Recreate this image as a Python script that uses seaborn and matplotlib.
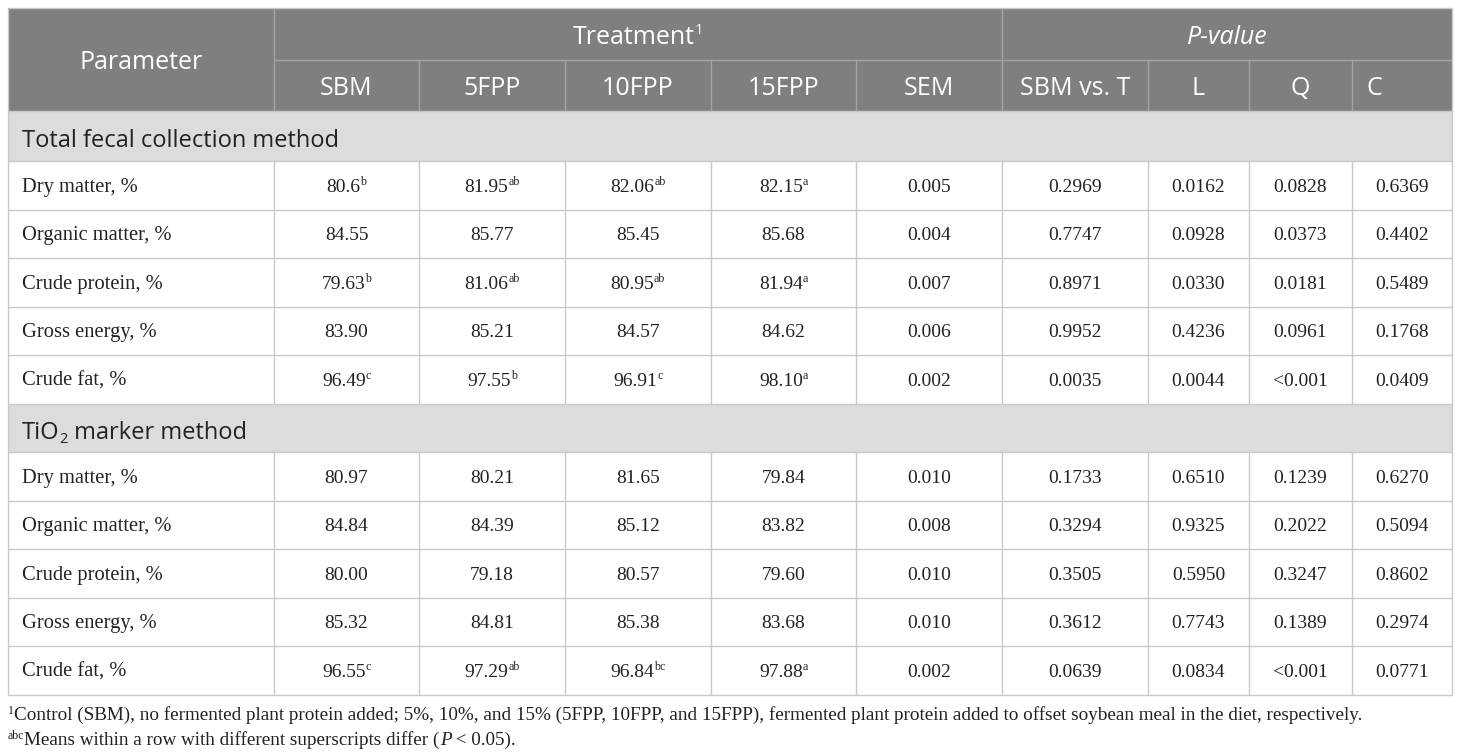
import matplotlib
matplotlib.use("Agg")
import matplotlib.pyplot as plt
import seaborn as sns
from matplotlib.patches import Rectangle

sns.set_theme(style="white")

# ---------------- data ----------------
treatments = ["SBM", "5FPP", "10FPP", "15FPP"]
pcols = ["SBM vs. T", "L", "Q", "C"]
params = ["Dry matter, %", "Organic matter, %", "Crude protein, %",
          "Gross energy, %", "Crude fat, %"]

tfc_values = [["80.6", "81.95", "82.06", "82.15"],
              ["84.55", "85.77", "85.45", "85.68"],
              ["79.63", "81.06", "80.95", "81.94"],
              ["83.90", "85.21", "84.57", "84.62"],
              ["96.49", "97.55", "96.91", "98.10"]]
tfc_sup = [["b", "ab", "ab", "a"],
           ["", "", "", ""],
           ["b", "ab", "ab", "a"],
           ["", "", "", ""],
           ["c", "b", "c", "a"]]
tfc_sem = ["0.005", "0.004", "0.007", "0.006", "0.002"]
tfc_p = [["0.2969", "0.0162", "0.0828", "0.6369"],
         ["0.7747", "0.0928", "0.0373", "0.4402"],
         ["0.8971", "0.0330", "0.0181", "0.5489"],
         ["0.9952", "0.4236", "0.0961", "0.1768"],
         ["0.0035", "0.0044", "<0.001", "0.0409"]]

tio_values = [["80.97", "80.21", "81.65", "79.84"],
              ["84.84", "84.39", "85.12", "83.82"],
              ["80.00", "79.18", "80.57", "79.60"],
              ["85.32", "84.81", "85.38", "83.68"],
              ["96.55", "97.29", "96.84", "97.88"]]
tio_sup = [["", "", "", ""],
           ["", "", "", ""],
           ["", "", "", ""],
           ["", "", "", ""],
           ["c", "ab", "bc", "a"]]
tio_sem = ["0.010", "0.008", "0.010", "0.010", "0.002"]
tio_p = [["0.1733", "0.6510", "0.1239", "0.6270"],
         ["0.3294", "0.9325", "0.2022", "0.5094"],
         ["0.3505", "0.5950", "0.3247", "0.8602"],
         ["0.3612", "0.7743", "0.1389", "0.2974"],
         ["0.0639", "0.0834", "<0.001", "0.0771"]]

# ---------------- layout ----------------
W, H = 1460, 756
fig = plt.figure(figsize=(W / 100, H / 100), dpi=100)
ax = fig.add_axes([0, 0, 1, 1])
ax.set_xlim(0, W)
ax.set_ylim(H, 0)
ax.axis("off")
renderer = fig.canvas.get_renderer()

xs = [8, 274, 419, 565, 711, 856, 1002, 1148, 1249, 1352, 1452]
y_top, y_h1, y_h2 = 8, 60, 111
sec1_bot = 161
row_h = 48.5
rows1 = [sec1_bot + i * row_h for i in range(6)]          # edges
sec2_bot = rows1[-1] + row_h
rows2 = [sec2_bot + i * row_h for i in range(6)]
y_bot = rows2[-1]

HDR = "#7f7f7f"
HDR_LINE = "#a3a3a3"
SEC = "#dcdcdc"
LINE = "#c8c8c8"
TXT = "#222222"

SANS = "Open Sans"
SERIF = "Liberation Serif"
HS = 18.0   # header font size
SS = 17.0   # section font size
LS = 14.8   # row label font size
BS = 14.0   # number font size
FS = 13.8   # footnote size


def rect(x0, y0, x1, y1, color):
    ax.add_patch(Rectangle((x0, y0), x1 - x0, y1 - y0, facecolor=color,
                           edgecolor="none", zorder=0))


def hline(x0, x1, y, color, lw=1.0):
    ax.plot([x0, x1], [y, y], color=color, lw=lw, zorder=2,
            solid_capstyle="butt")


def vline(x, y0, y1, color, lw=1.0):
    ax.plot([x, x], [y0, y1], color=color, lw=lw, zorder=2,
            solid_capstyle="butt")


def runs(x, y, parts, ha="left"):
    """parts: list of (text, dict(size, family, style, dy, color))."""
    objs = []
    widths = []
    for txt, st in parts:
        t = ax.text(0, 0, txt, fontsize=st.get("size", BS),
                    family=st.get("family", SERIF),
                    style=st.get("style", "normal"),
                    color=st.get("color", TXT), va="baseline", ha="left",
                    zorder=3)
        bb = t.get_window_extent(renderer)
        objs.append((t, st))
        widths.append(bb.width)
    total = sum(widths)
    cx = x - total / 2 if ha == "center" else x
    for (t, st), w in zip(objs, widths):
        t.set_position((cx, y - st.get("dy", 0)))
        cx += w + st.get("gap", 0)


def body_cell(x, y, val, sup=""):
    parts = [(val, dict(size=BS))]
    if sup:
        parts.append((sup, dict(size=BS * 0.62, dy=6.5)))
    runs(x, y, parts, ha="center")


# backgrounds
rect(xs[0], y_top, xs[-1], y_h2, HDR)
rect(xs[0], y_h2, xs[-1], sec1_bot, SEC)
rect(xs[0], rows1[-1], xs[-1], sec2_bot, SEC)

# header lines
hline(xs[1], xs[-1], y_h1, HDR_LINE)
for i in range(1, len(xs) - 1):
    if i in (1, 6):
        vline(xs[i], y_top, y_h2, HDR_LINE)
    else:
        vline(xs[i], y_h1, y_h2, HDR_LINE)

# body lines
for edges in (rows1, rows2):
    for y in edges:
        hline(xs[0], xs[-1], y, LINE)
    for i in range(1, len(xs) - 1):
        vline(xs[i], edges[0], edges[-1], LINE)
hline(xs[0], xs[-1], y_h2, LINE)
hline(xs[0], xs[-1], y_top, LINE)
vline(xs[0], y_top, y_bot, LINE)
vline(xs[-1], y_top, y_bot, LINE)

# header text
WH = "white"
HOFF = 9.5
runs((xs[0] + xs[1]) / 2, (y_top + y_h2) / 2 + HOFF,
     [("Parameter", dict(size=HS, family=SANS, color=WH))], ha="center")
runs((xs[1] + xs[6]) / 2, (y_top + y_h1) / 2 + HOFF,
     [("Treatment", dict(size=HS, family=SANS, color=WH)),
      ("1", dict(size=HS * 0.6, family=SANS, color=WH, dy=9))], ha="center")
runs((xs[6] + xs[-1]) / 2, (y_top + y_h1) / 2 + HOFF,
     [("P-value", dict(size=HS, family=SANS, color=WH, style="italic"))],
     ha="center")
sub_hdr = treatments + ["SEM"] + pcols
for i, lab in enumerate(sub_hdr):
    cx = (xs[i + 1] + xs[i + 2]) / 2
    yb = (y_h1 + y_h2) / 2 + HOFF
    if lab == "C":
        runs(xs[i + 1] + 14, yb, [(lab, dict(size=HS, family=SANS, color=WH))])
    else:
        runs(cx, yb, [(lab, dict(size=HS, family=SANS, color=WH))],
             ha="center")

# section labels
SOFF = 11
runs(22, (y_h2 + sec1_bot) / 2 + SOFF,
     [("Total fecal collection method", dict(size=SS, family=SANS))])
runs(22, (rows1[-1] + sec2_bot) / 2 + SOFF,
     [("TiO", dict(size=SS, family=SANS)),
      ("2", dict(size=SS * 0.62, family=SANS, dy=-4)),
      (" marker method", dict(size=SS, family=SANS))])

# body
for edges, vals, sups, sems, ps in ((rows1, tfc_values, tfc_sup, tfc_sem, tfc_p),
                                    (rows2, tio_values, tio_sup, tio_sem, tio_p)):
    for r in range(5):
        yb = (edges[r] + edges[r + 1]) / 2 + 6.5
        runs(22, yb, [(params[r], dict(size=LS))])
        for c in range(4):
            body_cell((xs[c + 1] + xs[c + 2]) / 2, yb, vals[r][c], sups[r][c])
        body_cell((xs[5] + xs[6]) / 2, yb, sems[r])
        for c in range(4):
            body_cell((xs[c + 6] + xs[c + 7]) / 2, yb, ps[r][c])

# footnotes
runs(8, 720,
     [("1", dict(size=FS * 0.62, dy=6)),
      ("Control (SBM), no fermented plant protein added; 5%, 10%, and 15% "
       "(5FPP, 10FPP, and 15FPP), fermented plant protein added to offset "
       "soybean meal in the diet, respectively.", dict(size=FS))])
runs(8, 745,
     [("abc", dict(size=FS * 0.62, dy=6)),
      ("Means within a row with different superscripts differ (", dict(size=FS)),
      ("P", dict(size=FS, style="italic")),
      (" < 0.05).", dict(size=FS))])

fig.savefig("out.png", dpi=100, facecolor="white")
